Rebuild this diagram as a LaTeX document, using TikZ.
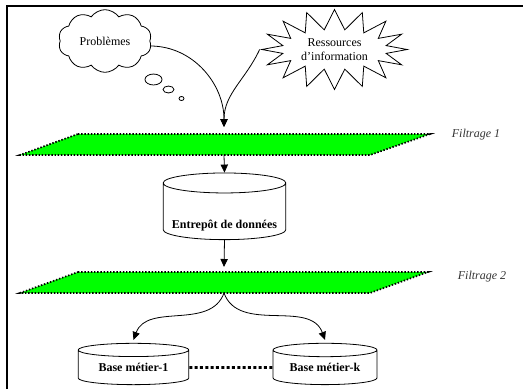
\documentclass[tikz,border=0pt]{standalone}
\usepackage{fontspec}
\setmainfont{Liberation Serif}
\usepackage{xcolor}
\usetikzlibrary{positioning, arrows.meta, calc, shapes.symbols, shapes.geometric}
\definecolor{planegreen}{RGB}{0,255,0}

\begin{document}
\begin{tikzpicture}[
  x=0.75pt, y=-0.75pt,
  >={Triangle[length=6pt, width=5.5pt]},
  font=\fontsize{9}{10.5}\selectfont,
  frame/.style={line width=1.2pt},
  link/.style={->, line width=0.6pt},
  plane/.style={fill=planegreen, draw=black, line width=1.3pt,
                dash pattern=on 1.1pt off 1.3pt},
  db/.style={cylinder, shape border rotate=90, draw, line width=0.6pt,
             inner sep=0pt, font=\fontsize{9}{10.5}\selectfont\bfseries},
  bubble/.style={ellipse, draw, line width=0.6pt, inner sep=0pt},
  tag/.style={font=\fontsize{9}{10.5}\selectfont\itshape, text=black!80},
]
  \useasboundingbox (0,0) rectangle (523,389);
  \draw[frame] (7,389) -- (7,6) -- (523,6);

  % sources
  \node[cloud, draw, line width=0.6pt, cloud puffs=10, cloud puff arc=110, aspect=1.4,
        minimum width=70pt, minimum height=47pt, inner sep=0pt] (prob) at (105,41) {Problèmes};
  \node[bubble, minimum width=12.8pt, minimum height=8.2pt] (b1) at (153.5,79.5) {};
  \node[bubble, minimum width=8.2pt, minimum height=5.2pt] (b2) at (168.5,89.5) {};
  \node[bubble, minimum width=3.8pt, minimum height=3pt] (b3) at (181.5,98.5) {};
  \node[starburst, draw, line width=0.6pt, starburst points=16, random starburst=0,
        starburst point height=15pt, minimum width=109pt, minimum height=60pt,
        align=center, inner sep=0pt] (res) at (334.5,49.5) {Ressources\\d’information};

  % Filtrage 1
  \coordinate (f1-in) at (224,127);
  \coordinate (f1-out) at (224,155);
  \filldraw[plane] (78,134) -- (430,134) -- (370,155) -- (20,155) -- cycle;
  \node[tag] (tag1) at (476,135) {Filtrage 1};
  \draw[link] ($(prob.east)+(0,5)$) to[out=0, in=90] (f1-in);
  \draw[link] (res.west) to[out=245, in=90] (f1-in);

  % entrepot
  \node[db, aspect=0.19, minimum width=92pt, minimum height=50pt,
        text height=26pt, text depth=0pt] (ent) at (224.5,211.5) {Entrepôt de données};
  \draw[link] (f1-out) -- (ent.north);

  % Filtrage 2
  \coordinate (f2-in) at (224,267);
  \coordinate (f2-out) at (224,293);
  \filldraw[plane] (78,272) -- (428,272) -- (370,293) -- (20,293) -- cycle;
  \node[tag] (tag2) at (482,277) {Filtrage 2};
  \draw[link] (ent.south) -- (f2-in);

  % bases metier
  \node[db, aspect=0.19, minimum width=83pt, minimum height=31pt] (base1) at (133.5,367.5) {Base métier-1};
  \node[db, aspect=0.19, minimum width=78pt, minimum height=31pt] (basek) at (325,367.5) {Base métier-k};
  \draw[link] (f2-out) to[out=250, in=70] ($(base1.north)+(0,-3)$);
  \draw[link] (f2-out) to[out=290, in=110] ($(basek.north)+(0,-3)$);
  \draw[line width=1.9pt, dash pattern=on 2.3pt off 1.7pt] (base1.east) -- (basek.west);
\end{tikzpicture}
\end{document}
